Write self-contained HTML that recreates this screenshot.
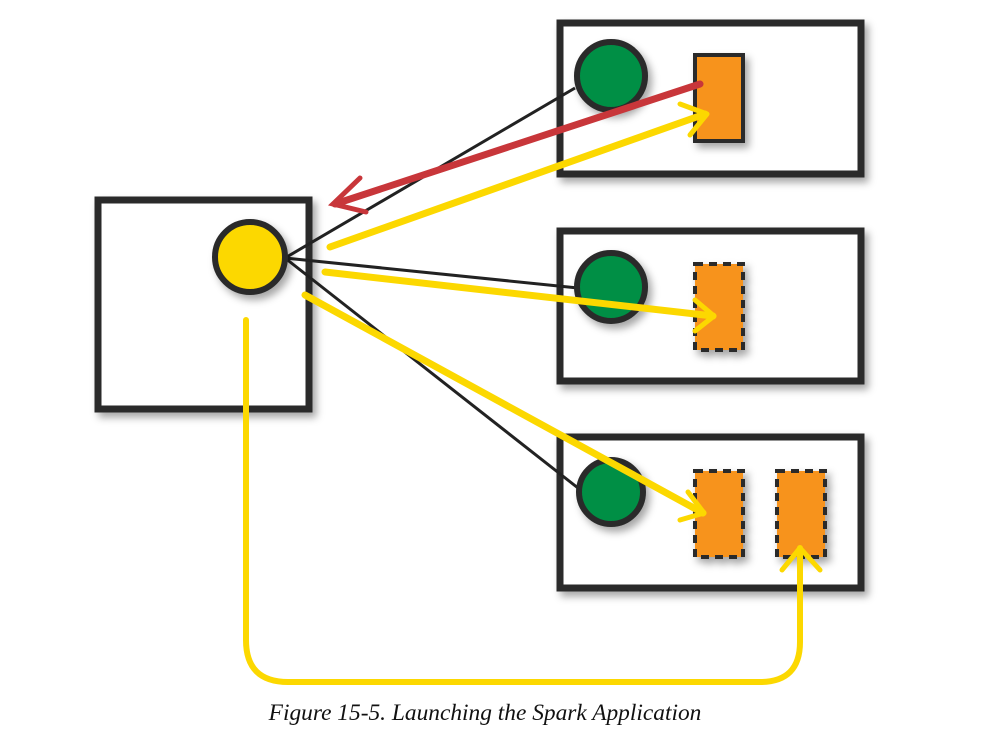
<!DOCTYPE html>
<html><head><meta charset="utf-8"><style>
html,body{margin:0;padding:0;background:#fff;width:992px;height:736px;overflow:hidden}
</style></head><body>
<svg width="992" height="736" viewBox="0 0 992 736" xmlns="http://www.w3.org/2000/svg">
<defs>
<filter id="sh" x="-20%" y="-20%" width="140%" height="140%"><feDropShadow dx="4" dy="5" stdDeviation="4" flood-color="#000" flood-opacity="0.35"/></filter>
</defs>
<g fill="#fff" stroke="#2a2a2a" stroke-width="7" filter="url(#sh)">
<rect x="98" y="200" width="211" height="209"/>
<rect x="560" y="23" width="301" height="151"/>
<rect x="560" y="231" width="301" height="150"/>
<rect x="560" y="437" width="301" height="151"/>
</g>
<g stroke="#222" stroke-width="3" fill="none">
<line x1="285" y1="258" x2="575" y2="88"/>
<line x1="285" y1="258" x2="578" y2="288"/>
<line x1="285" y1="258" x2="578" y2="488"/>
</g>
<g stroke="#2a2a2a" stroke-width="6" filter="url(#sh)">
<circle cx="250" cy="257" r="35" fill="#fcd800"/>
<circle cx="611" cy="76" r="34" fill="#008f44"/>
<circle cx="611" cy="287" r="34" fill="#008f44"/>
<circle cx="611" cy="492" r="32" fill="#008f44"/>
</g>
<g fill="#f7931e" stroke="#2a2a2a" stroke-width="4" filter="url(#sh)">
<rect x="695" y="55" width="48" height="86"/>
<rect x="695" y="264" width="48" height="86" stroke-dasharray="8,6"/>
<rect x="695" y="471" width="48" height="86" stroke-dasharray="8,6"/>
<rect x="777" y="471" width="48" height="86" stroke-dasharray="8,6"/>
</g>
<g stroke="#c8363a" stroke-width="7" fill="none" stroke-linecap="round">
<line x1="700" y1="84" x2="335" y2="204"/>
<polyline points="360,178 333,204 366,212" stroke-width="5"/>
</g>
<g stroke="#fcd800" stroke-width="7" fill="none" stroke-linecap="round" stroke-linejoin="round">
<line x1="330" y1="247" x2="705" y2="114"/>
<polyline points="680,104 707,114 690,135" stroke-width="5"/>
<line x1="325" y1="272" x2="713" y2="316"/>
<polyline points="695,300 714,316 695,331" stroke-width="5"/>
<line x1="305" y1="295" x2="703" y2="513"/>
<polyline points="688,492 704,513 680,520" stroke-width="5"/>
<path d="M246 320 L246 640 Q246 682 288 682 L760 682 Q800 682 800 642 L800 548" stroke-width="6"/>
<polyline points="782,570 800,548 820,570" stroke-width="5"/>
</g>
<text x="485" y="720" text-anchor="middle" font-family="Liberation Serif, serif" font-style="italic" font-size="23.4" fill="#111">Figure 15-5. Launching the Spark Application</text>
</svg>
</body></html>
